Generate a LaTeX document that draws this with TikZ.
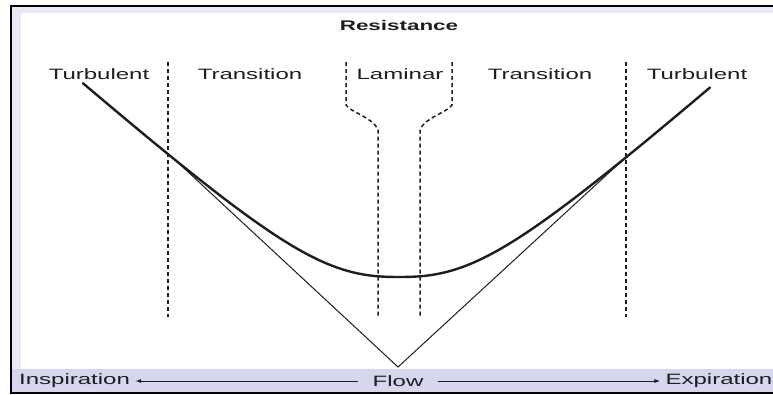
\documentclass[tikz,border=0pt]{standalone}
\usepackage{fontspec}
\setmainfont{Liberation Sans}[FakeStretch=1.6]
\usetikzlibrary{arrows.meta}
\definecolor{band}{RGB}{214,214,238}
\definecolor{edgeband}{RGB}{232,232,246}
\definecolor{ink}{RGB}{30,30,30}
\tikzset{
  lbl/.style={font=\fontsize{15}{17}\selectfont, text=ink, inner sep=0pt},
  title/.style={font=\fontsize{14}{17}\selectfont\bfseries, text=ink, inner sep=0pt},
  divider/.style={draw=ink, line width=1.5pt, dash pattern=on 4pt off 3pt},
  curve/.style={draw=ink, line width=2.4pt, line cap=round},
  tangent/.style={draw=ink, line width=1pt},
  flowarrow/.style={draw=ink, line width=1pt, -{Latex[length=6pt,width=4pt]}}
}
\begin{document}
\begin{tikzpicture}[x=1pt,y=-1pt]
\useasboundingbox (0,0) rectangle (773,394);
% frame
\fill[white] (0,0) rectangle (773,394);
\fill[edgeband] (11,6) rectangle (773,13);
\fill[edgeband] (11,6) rectangle (21,394);
\fill[band] (11,369) rectangle (773,394);
\draw[black, line width=2pt] (11,394) -- (11,6) -- (773,6);
\draw[black, line width=1.5pt] (11,393) -- (773,393);
% title and labels
\node[title] (res) at (399,25) {Resistance};
\node[lbl] (turbL) at (99,74) {Turbulent};
\node[lbl] (tranL) at (250,74) {Transition};
\node[lbl] (lam) at (400,74) {Laminar};
\node[lbl] (tranR) at (540,74) {Transition};
\node[lbl] (turbR) at (697,74) {Turbulent};
% dividers
\draw[divider] (168,62) -- (168,317);
\draw[divider] (626,62) -- (626,317);
\draw[divider] (346,62) -- (346,105) .. controls (350,112) and (374,118) .. (378,130) -- (378,317);
\draw[divider] (452,62) -- (452,105) .. controls (448,112) and (424,118) .. (420,130) -- (420,317);
% tangents
\coordinate (apex) at (398,367);
\coordinate (tl) at (172,157);
\coordinate (tr) at (626,157);
\draw[tangent] (tl) -- (apex) -- (tr);
% resistance curve
\draw[curve] plot[domain=83:710, samples=150] (\x, {367 - 100*pow(pow(0.00878*abs(\x-399),2.5) + 0.7684, 0.4)});
% flow axis
\node[lbl, anchor=west] (insp) at (19,381) {Inspiration};
\node[lbl] (flow) at (398,381) {Flow};
\node[lbl, anchor=east] (exp) at (772.5,381) {Expiration};
\draw[flowarrow] ([xshift=-14pt]flow.west) -- ([xshift=5pt]insp.east);
\draw[flowarrow] ([xshift=14pt]flow.east) -- ([xshift=-5pt]exp.west);
\end{tikzpicture}
\end{document}
